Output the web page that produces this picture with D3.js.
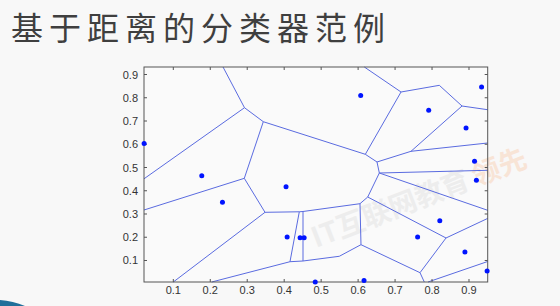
<!DOCTYPE html>
<html>
<head>
<meta charset="utf-8">
<script src="https://cdn.jsdelivr.net/npm/d3@7"></script>
<style>
  html, body { margin: 0; padding: 0; background: #f8f8f8; }
  svg { display: block; }
</style>
</head>
<body>
<div id="chart"></div>
<script>
// sample points
const pointsX = [0.021, 0.177, 0.233, 0.405, 0.408, 0.443, 0.454, 0.484, 0.616,
                 0.607, 0.791, 0.892, 0.934, 0.915, 0.920, 0.821, 0.761, 0.889, 0.949];
const pointsY = [0.603, 0.464, 0.351, 0.417, 0.201, 0.198, 0.198, 0.007, 0.014,
                 0.810, 0.746, 0.670, 0.846, 0.527, 0.445, 0.271, 0.201, 0.137, 0.055];

// voronoi cell vertices (data units) and the edges joining them
const vertX = [0.2345, 0.2926, 0.0207, 0.3435, 0.2921, 0.0207, 0.3481, 0.1000, 0.4409, 0.4509,
               0.4157, 0.4509, 0.2039, 0.5491, 0.6078, 0.6051, 0.6260, 0.6574, 0.6511, 0.6195,
               0.7161, 0.6168, 0.8197, 0.8811, 0.9506, 0.7431, 0.9506, 0.9506, 0.9506, 0.8378,
               0.9506, 0.7675, 0.7791, 0.7891, 0.9506];
const vertY = [0.9323, 0.7572, 0.4514, 0.6970, 0.4535, 0.3172, 0.3073, 0.0075, 0.3095, 0.3108,
               0.0948, 0.0978, 0.0075, 0.1181, 0.1680, 0.3443, 0.3731, 0.4763, 0.5237, 0.5568,
               0.8247, 0.9323, 0.8535, 0.7645, 0.7486, 0.5697, 0.6054, 0.4880, 0.3159, 0.1968,
               0.2810, 0.0475, 0.0075, 0.0075, 0.0957];
const edgeFrom = [0, 1, 1, 3, 3, 4, 4, 6, 6, 8, 8, 9, 9, 10, 10, 11, 13, 14, 14,
                  15, 16, 17, 18, 19, 20, 20, 22, 23, 23, 25, 25, 17, 17, 16, 29, 29, 31, 33];
const edgeTo   = [1, 2, 3, 19, 4, 5, 6, 7, 8, 9, 10, 11, 15, 11, 12, 13, 14, 15, 31,
                  16, 17, 18, 19, 20, 21, 22, 23, 24, 25, 26, 18, 27, 28, 29, 30, 31, 32, 34];

const xTicks = [0.1, 0.2, 0.3, 0.4, 0.5, 0.6, 0.7, 0.8, 0.9];
const yTicks = [0.1, 0.2, 0.3, 0.4, 0.5, 0.6, 0.7, 0.8, 0.9];
const title = "基于距离的分类器范例";

const width = 560, height = 306;
const margin = { top: 67, right: 72.3, bottom: 24, left: 144 };
const xDomain = [0.0207, 0.9506], yDomain = [0.0075, 0.9323];

const svg = d3.select("#chart").append("svg")
  .attr("width", width)
  .attr("height", height)
  .attr("font-family", "'Noto Sans CJK SC', 'Liberation Sans', sans-serif");

svg.append("rect").attr("width", width).attr("height", height).attr("fill", "#f8f8f8");

svg.append("text")
  .attr("x", 11)
  .attr("y", 40)
  .attr("font-size", 32)
  .attr("letter-spacing", 6)
  .attr("fill", "#3f3f3f")
  .text(title);

const x = d3.scaleLinear().domain(xDomain).range([margin.left, width - margin.right]);
const y = d3.scaleLinear().domain(yDomain).range([height - margin.bottom, margin.top]);

const x0 = x.range()[0], x1 = x.range()[1];
const y0 = y.range()[1], y1 = y.range()[0];

// plot area
svg.append("rect")
  .attr("x", x0).attr("y", y0)
  .attr("width", x1 - x0).attr("height", y1 - y0)
  .attr("fill", "#fafafa");

// faint watermark
const wm = svg.append("g").attr("transform", "translate(316,248) rotate(-21)")
  .attr("font-size", 28).attr("font-weight", "bold");
wm.append("text").attr("fill", "#ededed").text("IT互联网教育");
wm.append("text").attr("x", 172).attr("fill", "#f8e4d6").text("领先");

// voronoi edges
svg.append("g")
  .attr("stroke", "#5a6be0")
  .attr("stroke-width", 1)
  .selectAll("line")
  .data(edgeFrom.map((a, i) => [a, edgeTo[i]]))
  .join("line")
  .attr("x1", d => x(vertX[d[0]]))
  .attr("y1", d => y(vertY[d[0]]))
  .attr("x2", d => x(vertX[d[1]]))
  .attr("y2", d => y(vertY[d[1]]));

// axes box
const tickLen = 3;
const axes = svg.append("g").attr("stroke", "#555").attr("stroke-width", 1).attr("fill", "none");
axes.append("rect")
  .attr("x", x0).attr("y", y0)
  .attr("width", x1 - x0).attr("height", y1 - y0);

axes.selectAll(".xt").data(xTicks).join("path")
  .attr("d", d => `M${x(d)},${y1}v${-tickLen}M${x(d)},${y0}v${tickLen}`);
axes.selectAll(".yt").data(yTicks).join("path")
  .attr("d", d => `M${x0},${y(d)}h${tickLen}M${x1},${y(d)}h${-tickLen}`);

svg.append("g").selectAll("text").data(xTicks).join("text")
  .attr("x", d => x(d))
  .attr("y", y1 + 12)
  .attr("text-anchor", "middle")
  .attr("font-family", "'Liberation Sans', sans-serif")
  .attr("font-size", 11)
  .attr("fill", "#333")
  .text(d => d3.format(".1f")(d));

svg.append("g").selectAll("text").data(yTicks).join("text")
  .attr("x", x0 - 6)
  .attr("y", d => y(d) + 4)
  .attr("text-anchor", "end")
  .attr("font-family", "'Liberation Sans', sans-serif")
  .attr("font-size", 11)
  .attr("fill", "#333")
  .text(d => d3.format(".1f")(d));

// points
svg.append("g").selectAll("circle").data(pointsX.map((d, i) => [d, pointsY[i]])).join("circle")
  .attr("cx", d => x(d[0]))
  .attr("cy", d => y(d[1]))
  .attr("r", 2.5)
  .attr("fill", "#0014ff");

// corner swoosh
svg.append("path")
  .attr("d", "M0,300 Q13,301 25,306 L0,306 Z")
  .attr("fill", "#1f6f9a");
</script>
</body>
</html>
